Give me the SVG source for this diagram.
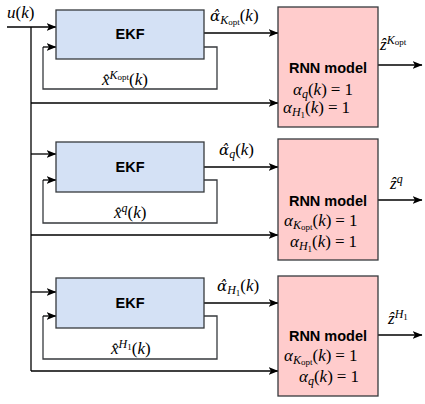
<svg xmlns="http://www.w3.org/2000/svg" width="425" height="404" viewBox="0 0 425 404">
  <defs>
    <marker id="arr" viewBox="0 0 10 8" refX="9.5" refY="4" markerWidth="10" markerHeight="8" markerUnits="userSpaceOnUse" orient="auto">
      <path d="M0,0 L10,4 L0,8 L2.5,4 z" fill="#000"/>
    </marker>
    <style>
      .ekf{fill:#d4e1f5;stroke:#36393d;stroke-width:1.3}
      .rnn{fill:#ffcccc;stroke:#36393d;stroke-width:1.3}
      .ln{fill:none;stroke:#000;stroke-width:1.3}
      .ar{fill:none;stroke:#000;stroke-width:1.3;marker-end:url(#arr)}
      .fb{fill:none;stroke:#36393d;stroke-width:1.3}
      .t{font-family:"Liberation Sans",Arial,sans-serif;font-weight:bold;font-size:14.5px;text-anchor:middle;fill:#000}
      .m{font-family:"Liberation Serif","Times New Roman",serif;font-size:17px;fill:#000}
      .g{font-family:"DejaVu Serif",serif;font-size:15px}
      .i{font-style:italic}
      .s{font-size:12px}
      .ss{font-size:9px}
    </style>
  </defs>

  <!-- connectors -->
  <g id="connectors">
    <!-- input u(k) and shared bus -->
    <path class="ar" d="M7,27 H56"/>
    <path class="ln" d="M31,27 V371"/>
    <path class="ar" d="M31,103 H278"/>
    <path class="ar" d="M31,154 H56"/>
    <path class="ar" d="M31,235 H278"/>
    <path class="ar" d="M31,292 H56"/>
    <path class="ar" d="M31,371 H278"/>

    <!-- filter 1 -->
    <path class="ar" d="M204,33 H278"/>
    <path class="fb" d="M204,47 H217 V89 H43 V47"/>
    <path class="ar" d="M43,47 H56"/>
    <path class="ar" d="M378,65 H422"/>

    <!-- filter 2 -->
    <path class="ar" d="M204,167 H278"/>
    <path class="fb" d="M204,180 H217 V223 H43 V180"/>
    <path class="ar" d="M43,180 H56"/>
    <path class="ar" d="M378,200 H422"/>

    <!-- filter 3 -->
    <path class="ar" d="M204,303 H278"/>
    <path class="fb" d="M204,316 H217 V359 H43 V316"/>
    <path class="ar" d="M43,316 H56"/>
    <path class="ar" d="M378,335 H422"/>
  </g>

  <!-- input label -->
  <text class="m" x="7" y="18"><tspan class="i">u</tspan>(<tspan class="i">k</tspan>)</text>

  <!-- stage 1 -->
  <g id="ekf1">
    <rect class="ekf" x="56" y="10" width="148" height="49"/>
    <text class="t" x="130" y="39">EKF</text>
  </g>
  <g id="rnn1">
    <rect class="rnn" x="278" y="7" width="100" height="120"/>
    <text class="t" x="328" y="73">RNN model</text>
    <text class="m" x="293" y="95"><tspan class="i">α</tspan><tspan class="i s" dy="3">q</tspan><tspan dy="-3">(</tspan><tspan class="i">k</tspan>)<tspan dx="4">=</tspan><tspan dx="4">1</tspan></text>
    <text class="m" x="283" y="113"><tspan class="i">α</tspan><tspan class="i s" dy="3">H</tspan><tspan class="ss" dy="1.5">1</tspan><tspan dy="-4.5">(</tspan><tspan class="i">k</tspan>)<tspan dx="4">=</tspan><tspan dx="4">1</tspan></text>
  </g>
  <text class="m" x="210" y="21"><tspan class="i g">α̂</tspan><tspan class="i s" dy="3">K</tspan><tspan class="ss" dy="1">opt</tspan><tspan dy="-4">(</tspan><tspan class="i">k</tspan>)</text>
  <text class="m" x="102" y="85"><tspan class="i">x̂</tspan><tspan class="i s" dy="-6">K</tspan><tspan class="ss" dy="1">opt</tspan><tspan dy="5">(</tspan><tspan class="i">k</tspan>)</text>
  <text class="m" x="380" y="50"><tspan class="i">ẑ</tspan><tspan class="i s" dy="-6">K</tspan><tspan class="ss" dy="1">opt</tspan></text>

  <!-- stage 2 -->
  <g id="ekf2">
    <rect class="ekf" x="56" y="142" width="148" height="50"/>
    <text class="t" x="130" y="172">EKF</text>
  </g>
  <g id="rnn2">
    <rect class="rnn" x="278" y="139" width="100" height="121"/>
    <text class="t" x="328" y="206">RNN model</text>
    <text class="m" x="284" y="226"><tspan class="i">α</tspan><tspan class="i s" dy="3">K</tspan><tspan class="ss" dy="1">opt</tspan><tspan dy="-4">(</tspan><tspan class="i">k</tspan>)<tspan dx="4">=</tspan><tspan dx="4">1</tspan></text>
    <text class="m" x="290" y="247"><tspan class="i">α</tspan><tspan class="i s" dy="3">H</tspan><tspan class="ss" dy="1.5">1</tspan><tspan dy="-4.5">(</tspan><tspan class="i">k</tspan>)<tspan dx="4">=</tspan><tspan dx="4">1</tspan></text>
  </g>
  <text class="m" x="219" y="155"><tspan class="i g">α̂</tspan><tspan class="i s" dy="3">q</tspan><tspan dy="-3">(</tspan><tspan class="i">k</tspan>)</text>
  <text class="m" x="114" y="218"><tspan class="i">x̂</tspan><tspan class="i s" dy="-6">q</tspan><tspan dy="6">(</tspan><tspan class="i">k</tspan>)</text>
  <text class="m" x="390" y="189"><tspan class="i">ẑ</tspan><tspan class="i s" dy="-6">q</tspan></text>

  <!-- stage 3 -->
  <g id="ekf3">
    <rect class="ekf" x="56" y="278" width="148" height="50"/>
    <text class="t" x="130" y="308">EKF</text>
  </g>
  <g id="rnn3">
    <rect class="rnn" x="278" y="276" width="100" height="120"/>
    <text class="t" x="328" y="341">RNN model</text>
    <text class="m" x="284" y="361"><tspan class="i">α</tspan><tspan class="i s" dy="3">K</tspan><tspan class="ss" dy="1">opt</tspan><tspan dy="-4">(</tspan><tspan class="i">k</tspan>)<tspan dx="4">=</tspan><tspan dx="4">1</tspan></text>
    <text class="m" x="299" y="382"><tspan class="i">α</tspan><tspan class="i s" dy="3">q</tspan><tspan dy="-3">(</tspan><tspan class="i">k</tspan>)<tspan dx="4">=</tspan><tspan dx="4">1</tspan></text>
  </g>
  <text class="m" x="217" y="291"><tspan class="i g">α̂</tspan><tspan class="i s" dy="3">H</tspan><tspan class="ss" dy="1.5">1</tspan><tspan dy="-4.5">(</tspan><tspan class="i">k</tspan>)</text>
  <text class="m" x="111" y="354"><tspan class="i">x̂</tspan><tspan class="i s" dy="-6">H</tspan><tspan class="ss" dy="1.5">1</tspan><tspan dy="4.5">(</tspan><tspan class="i">k</tspan>)</text>
  <text class="m" x="388" y="324"><tspan class="i">ẑ</tspan><tspan class="i s" dy="-6">H</tspan><tspan class="ss" dy="1.5">1</tspan></text>
</svg>
